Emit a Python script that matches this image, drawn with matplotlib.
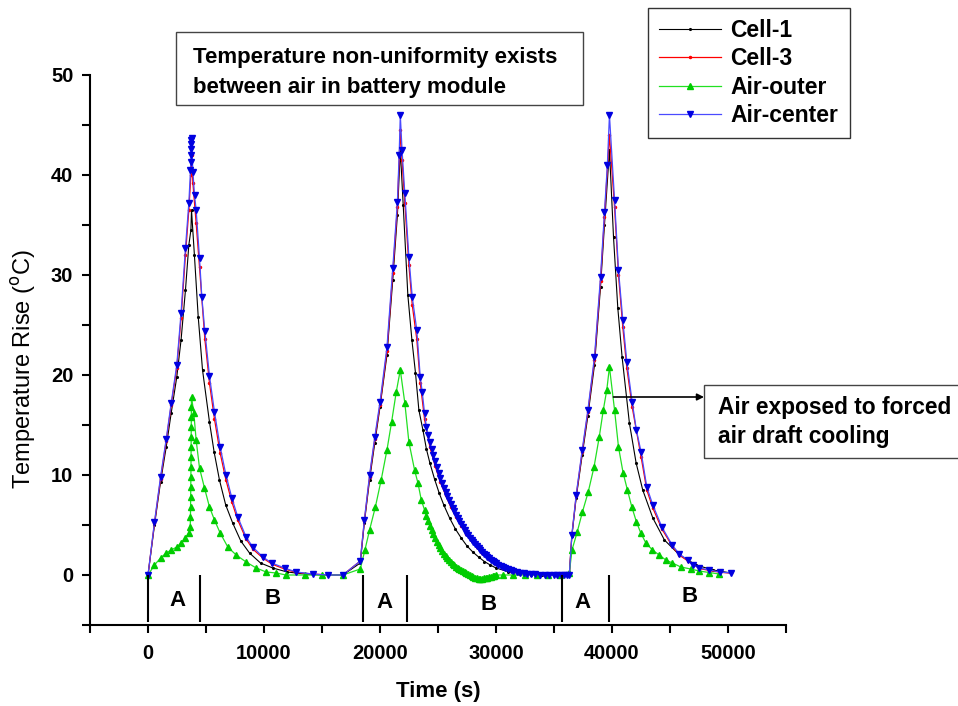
import matplotlib
matplotlib.use("Agg")
import matplotlib.pyplot as plt
from matplotlib.patches import Rectangle
from matplotlib.ticker import MultipleLocator

plt.rcParams["font.family"] = ["Liberation Sans", "DejaVu Sans"]

# Cell-1 (black)
cell1_t = [0, 560, 1080, 1570, 2000, 2480, 2850, 3230, 3520, 3700, 3750,
           4000, 4330, 4700, 5300, 5700, 6160, 6700, 7300, 8000, 8750, 9700,
           10760, 12000, 13500, 15000, 16800, 18300,
           18650, 19100, 19550, 20000, 20600, 21100, 21500, 21750,
           22000, 22400, 22750, 23060, 23350, 23700, 24000, 24300, 24700,
           25100, 25500, 26000, 26500, 27000, 27500, 28000, 28500, 29000,
           29500, 30000, 31000, 32000, 33000, 34000, 36320,
           36540, 36910, 37430, 37920, 38490, 39010, 39350, 39780,
           40130, 40500, 40870, 41500, 42080, 42650, 43520, 44520, 45820,
           47260, 48700, 50270]
cell1_v = [0, 5.0, 9.3, 12.8, 16.2, 19.8, 23.5, 28.5, 33.0, 34.5, 36.5,
           32.0, 25.8, 20.5, 15.3, 12.3, 9.5, 7.0, 5.2, 3.4, 2.2, 1.2,
           0.7, 0.3, 0.1, 0.0, 0.0, 1.2,
           5.2, 9.5, 13.2, 16.8, 22.0, 29.5, 36.0, 42.5,
           37.0, 28.0, 23.5, 20.2, 16.5, 14.5, 12.6, 11.2, 9.6,
           8.2, 7.0, 5.7, 4.6, 3.7, 2.9, 2.3, 1.8, 1.35,
           1.0, 0.7, 0.35, 0.15, 0.05, 0.0, 0.0,
           3.9, 7.7, 12.0, 15.9, 21.0, 28.8, 35.0, 42.5,
           33.8, 26.7, 21.8, 15.2, 11.2, 8.5, 5.7, 3.5, 2.0,
           1.0, 0.5, 0.2]

# Cell-3 (red)
cell3_t = [0, 560, 1080, 1570, 2000, 2480, 2850, 3230, 3520, 3700, 3750,
           3870, 4150, 4440, 4900, 5300, 5730, 6220, 6720, 7230, 7740, 8460,
           9030, 9900, 10670, 11770, 12780, 14200, 15500, 16800, 18300,
           18650, 19100, 19550, 20000, 20600, 21100, 21500, 21750,
           21900, 22140, 22490, 22780, 23170, 23470, 23840, 24300, 24750,
           25200, 25650, 26100, 26550, 27000, 27450, 27900, 28350, 28800,
           29400, 30000, 30600, 31250, 32100, 33000, 34200, 35300, 36320,
           36540, 36910, 37430, 37920, 38490, 39010, 39350, 39780,
           40220, 40560, 40930, 41280, 41740, 42510, 43000, 43520, 44300,
           45190, 45800, 46540, 47540, 48400, 49270, 50270]
cell3_v = [0, 5.2, 9.6, 13.4, 17.0, 20.7, 25.7, 32.0, 36.5, 40.0, 42.0,
           39.2, 35.2, 30.8, 23.6, 19.2, 15.6, 12.2, 9.5, 7.3, 5.5, 3.6,
           2.6, 1.7, 1.1, 0.6, 0.25, 0.1, 0.0, 0.0, 1.4,
           5.4, 9.8, 13.6, 17.0, 22.4, 30.2, 36.8, 44.5,
           41.5, 37.2, 31.0, 27.0, 23.6, 19.2, 15.6, 12.8, 10.9,
           9.3, 8.0, 6.8, 5.8, 4.9, 4.1, 3.4, 2.8, 2.2,
           1.6, 1.1, 0.75, 0.45, 0.22, 0.1, 0.03, 0.0, 0.0,
           4.0, 7.9, 12.3, 16.3, 21.5, 29.4, 35.8, 44.0,
           36.8, 30.0, 24.8, 20.7, 16.8, 11.8, 8.5, 6.7, 4.6,
           2.9, 2.0, 1.4, 0.65, 0.45, 0.28, 0.18]

# Air-outer (green)
outer_t = [0, 560, 1080, 1570, 2000, 2480, 2850, 3230, 3520,
           3640, 3660, 3670, 3680, 3690, 3700, 3705, 3710, 3715, 3720, 3725,
           3730, 3740, 3750,
           3950, 4150, 4440, 4870, 5300, 5730, 6220, 6880, 7600, 8460, 9330,
           10190, 11050, 11900, 13500, 15000, 16800, 18300,
           18700, 19100, 19600, 20100, 20600, 21000, 21400, 21750,
           22140, 22490, 22980, 23270, 23560, 23840,
           24000, 24150, 24300, 24450, 24600, 24750, 24900, 25050, 25200,
           25350, 25500, 25650, 25800, 25950, 26100, 26250, 26400, 26550,
           26700, 26850, 27000, 27150, 27300, 27450, 27600, 27750, 27900,
           28050, 28200, 28350, 28500, 28650, 28800, 28950, 29100, 29250,
           29400, 29550, 29700, 29850, 30000, 30600, 31500, 32500, 33500,
           34500, 35500, 36320,
           36550, 37000, 37450, 37950, 38450, 38900, 39250, 39550, 39780,
           40220, 40560, 40960, 41330, 41710, 42110, 42480, 42920, 43490,
           44060, 44640, 45210, 45930, 46790, 47510, 48370, 49240]
outer_v = [0, 1.0, 1.7, 2.2, 2.5, 2.8, 3.2, 3.7, 4.2,
           4.8, 5.8, 6.8, 7.8, 8.8, 9.8, 10.8, 11.8, 12.8, 13.8, 14.8,
           15.8, 16.8, 17.8,
           16.2, 13.5, 10.7, 8.7, 6.8, 5.5, 4.2, 2.8, 2.0, 1.3, 0.7,
           0.3, 0.2, 0.0, 0.0, 0.0, 0.0, 0.6,
           2.5, 4.5, 6.8, 9.5, 12.5, 15.3, 18.3, 20.5,
           17.2, 13.3, 10.5, 9.2, 7.5, 6.5,
           5.9, 5.4, 4.9, 4.5, 4.1, 3.7, 3.3, 3.0, 2.7,
           2.4, 2.1, 1.9, 1.7, 1.5, 1.3, 1.15, 1.0, 0.85,
           0.7, 0.6, 0.5, 0.4, 0.3, 0.2, 0.1, 0.0, -0.1,
           -0.2, -0.3, -0.3, -0.35, -0.35, -0.35, -0.3, -0.3, -0.25,
           -0.2, -0.15, -0.1, -0.05, 0.0, 0.0, 0.0, 0.0, 0.0,
           0.0, 0.0, 0.2,
           2.5, 4.3, 6.3, 8.3, 10.8, 13.8, 16.5, 18.5, 20.8,
           16.5, 12.8, 10.2, 8.5, 6.8, 5.3, 4.2, 3.2, 2.5,
           2.0, 1.5, 1.2, 0.8, 0.6, 0.4, 0.25, 0.1]

# Air-center (blue)
center_t = [0, 560, 1080, 1570, 2000, 2480, 2850, 3230, 3520, 3660, 3700,
            3710, 3720, 3730, 3740, 3750,
            3870, 4010, 4150, 4440, 4640, 4900, 5300, 5730, 6220, 6720,
            7230, 7740, 8460, 9030, 9900, 10670, 11770, 12780, 14200, 15500,
            16800, 18300,
            18650, 19100, 19550, 20000, 20600, 21100, 21500, 21650, 21750,
            21900, 22140, 22490, 22780, 23170, 23470, 23640, 23840,
            24000, 24150, 24300, 24450, 24600, 24750, 24900, 25050, 25200,
            25350, 25500, 25650, 25800, 25950, 26100, 26250, 26400, 26550,
            26700, 26850, 27000, 27150, 27300, 27450, 27600, 27750, 27900,
            28050, 28200, 28350, 28500, 28650, 28800, 28950, 29100, 29250,
            29400, 29550, 29700, 29850, 30000, 30200, 30400, 30600, 30800,
            31000, 31250, 31500, 31800, 32100, 32400, 32700, 33000, 33400,
            33800, 34200, 34600, 35000, 35300, 35600, 35900, 36150, 36320,
            36540, 36910, 37430, 37920, 38490, 39010, 39350, 39600, 39780,
            40220, 40560, 40930, 41280, 41740, 42100, 42510, 43000, 43520,
            44300, 45190, 45800, 46540, 47000, 47540, 48400, 49270, 50270]
center_v = [0, 5.3, 9.8, 13.6, 17.2, 21.0, 26.2, 32.7, 37.2, 40.5, 41.3,
            42.0, 42.6, 43.1, 43.5, 43.7,
            40.3, 38.0, 36.5, 31.7, 27.8, 24.4, 19.9, 16.3, 12.8, 10.0,
            7.7, 5.8, 3.8, 2.8, 1.8, 1.2, 0.7, 0.3, 0.1, 0.0,
            0.0, 1.4,
            5.5, 10.0, 13.8, 17.3, 22.8, 30.7, 37.3, 42.0, 46.0,
            42.5, 38.2, 31.8, 27.8, 24.5, 19.8, 18.3, 16.2,
            14.8, 14.0, 13.3, 12.6, 12.0, 11.4, 10.8, 10.2, 9.7,
            9.2, 8.7, 8.3, 7.9, 7.5, 7.1, 6.7, 6.4, 6.0,
            5.7, 5.4, 5.1, 4.8, 4.5, 4.25, 4.0, 3.75, 3.5,
            3.3, 3.1, 2.9, 2.7, 2.5, 2.3, 2.15, 2.0, 1.85,
            1.7, 1.55, 1.4, 1.3, 1.2, 1.05, 0.95, 0.8, 0.7,
            0.6, 0.5, 0.4, 0.3, 0.25, 0.2, 0.15, 0.1, 0.08,
            0.05, 0.03, 0.02, 0.0, 0.0, 0.0, 0.0, 0.0, 0.0,
            4.0, 8.0, 12.5, 16.5, 21.8, 29.8, 36.3, 41.0, 46.0,
            37.5, 30.5, 25.5, 21.3, 17.3, 14.5, 12.3, 8.8, 7.0,
            4.8, 3.0, 2.1, 1.5, 1.0, 0.7, 0.5, 0.3, 0.2]

# charge/discharge phase boundaries and names
phase_bounds = [0, 4500, 18550, 22370, 35700, 39760]
phase_names = ["A", "B", "A", "B", "A", "B"]
phase_label_t = [2560, 10730, 20390, 29350, 37460, 46680]
phase_label_v = [-2.5, -2.3, -2.8, -2.9, -2.8, -2.2]

fig = plt.figure(figsize=(9.58, 7.06), dpi=100)
ax = fig.add_axes([90 / 958, 1 - 625 / 706, 696 / 958, 550 / 706])

ax.plot(cell1_t, cell1_v, color="black", lw=0.8, marker=".", ms=2.5,
        label="Cell-1")
ax.plot(cell3_t, cell3_v, color="red", lw=0.9, marker=".", ms=3,
        label="Cell-3")
ax.plot(outer_t, outer_v, color="#22e022", lw=0.9, marker="^", ms=4,
        mfc="#00cc00", mec="#00cc00", label="Air-outer")
ax.plot(center_t, center_v, color="#4a4aff", lw=0.9, marker="v", ms=4.5,
        mfc="#0000e0", mec="#0000e0", label="Air-center")

# phase separators and labels
ax.vlines(phase_bounds, -4.7, 0, color="black", lw=1.5)
for name, t, v in zip(phase_names, phase_label_t, phase_label_v):
    ax.text(t, v, name, ha="center", va="center", fontsize=16,
            fontweight="bold")

ax.set_xlim(-5000, 55000)
ax.set_ylim(-5, 50)
ax.xaxis.set_major_locator(MultipleLocator(10000))
ax.xaxis.set_minor_locator(MultipleLocator(5000))
ax.yaxis.set_major_locator(MultipleLocator(10))
ax.yaxis.set_minor_locator(MultipleLocator(5))
ax.tick_params(which="both", direction="out", length=6, width=1.5, pad=6,
               labelsize=14.5)
ax.tick_params(axis="x", pad=8)
for lbl in ax.get_xticklabels() + ax.get_yticklabels():
    lbl.set_fontweight("bold")
for side in ["top", "right"]:
    ax.spines[side].set_visible(False)
for side in ["left", "bottom"]:
    ax.spines[side].set_linewidth(1.5)

ax.set_xlabel("Time (s)", fontsize=16, fontweight="bold", labelpad=13)
ax.set_ylabel("Temperature Rise ($^{\\rm o}$C)", fontsize=17)
ax.yaxis.set_label_coords(-0.075, 0.465)

leg = fig.legend(loc="upper left", bbox_to_anchor=(648 / 958, 1 - 8 / 706),
                 borderaxespad=0, fancybox=False, edgecolor="#333333",
                 framealpha=1, prop=dict(weight="bold", size=16.5),
                 handlelength=2.7, handletextpad=0.4, labelspacing=0.22,
                 borderpad=0.5, numpoints=1)
leg.get_frame().set_linewidth(1.0)

# note boxes
fig.patches.append(Rectangle((176 / 958, 1 - 105 / 706), 407 / 958, 73 / 706,
                             transform=fig.transFigure, fill=False,
                             ec="#444444", lw=1))
fig.text(193 / 958, 1 - 63 / 706, "Temperature non-uniformity exists",
         fontsize=16, fontweight="bold", va="baseline")
fig.text(193 / 958, 1 - 93 / 706, "between air in battery module",
         fontsize=16, fontweight="bold", va="baseline")

fig.patches.append(Rectangle((704 / 958, 1 - 458 / 706), 300 / 958, 73 / 706,
                             transform=fig.transFigure, fill=False,
                             ec="#444444", lw=1))
fig.text(718 / 958, 1 - 414 / 706, "Air exposed to forced",
         fontsize=16.4, fontweight="bold", va="baseline")
fig.text(718 / 958, 1 - 443 / 706, "air draft cooling",
         fontsize=16.4, fontweight="bold", va="baseline")

ax.annotate("", xy=(47930, 17.8), xytext=(40130, 17.8),
            arrowprops=dict(arrowstyle="-|>", color="black", lw=1.2,
                            mutation_scale=10, shrinkA=0, shrinkB=0),
            annotation_clip=False)

fig.savefig("out.png", dpi=100)
